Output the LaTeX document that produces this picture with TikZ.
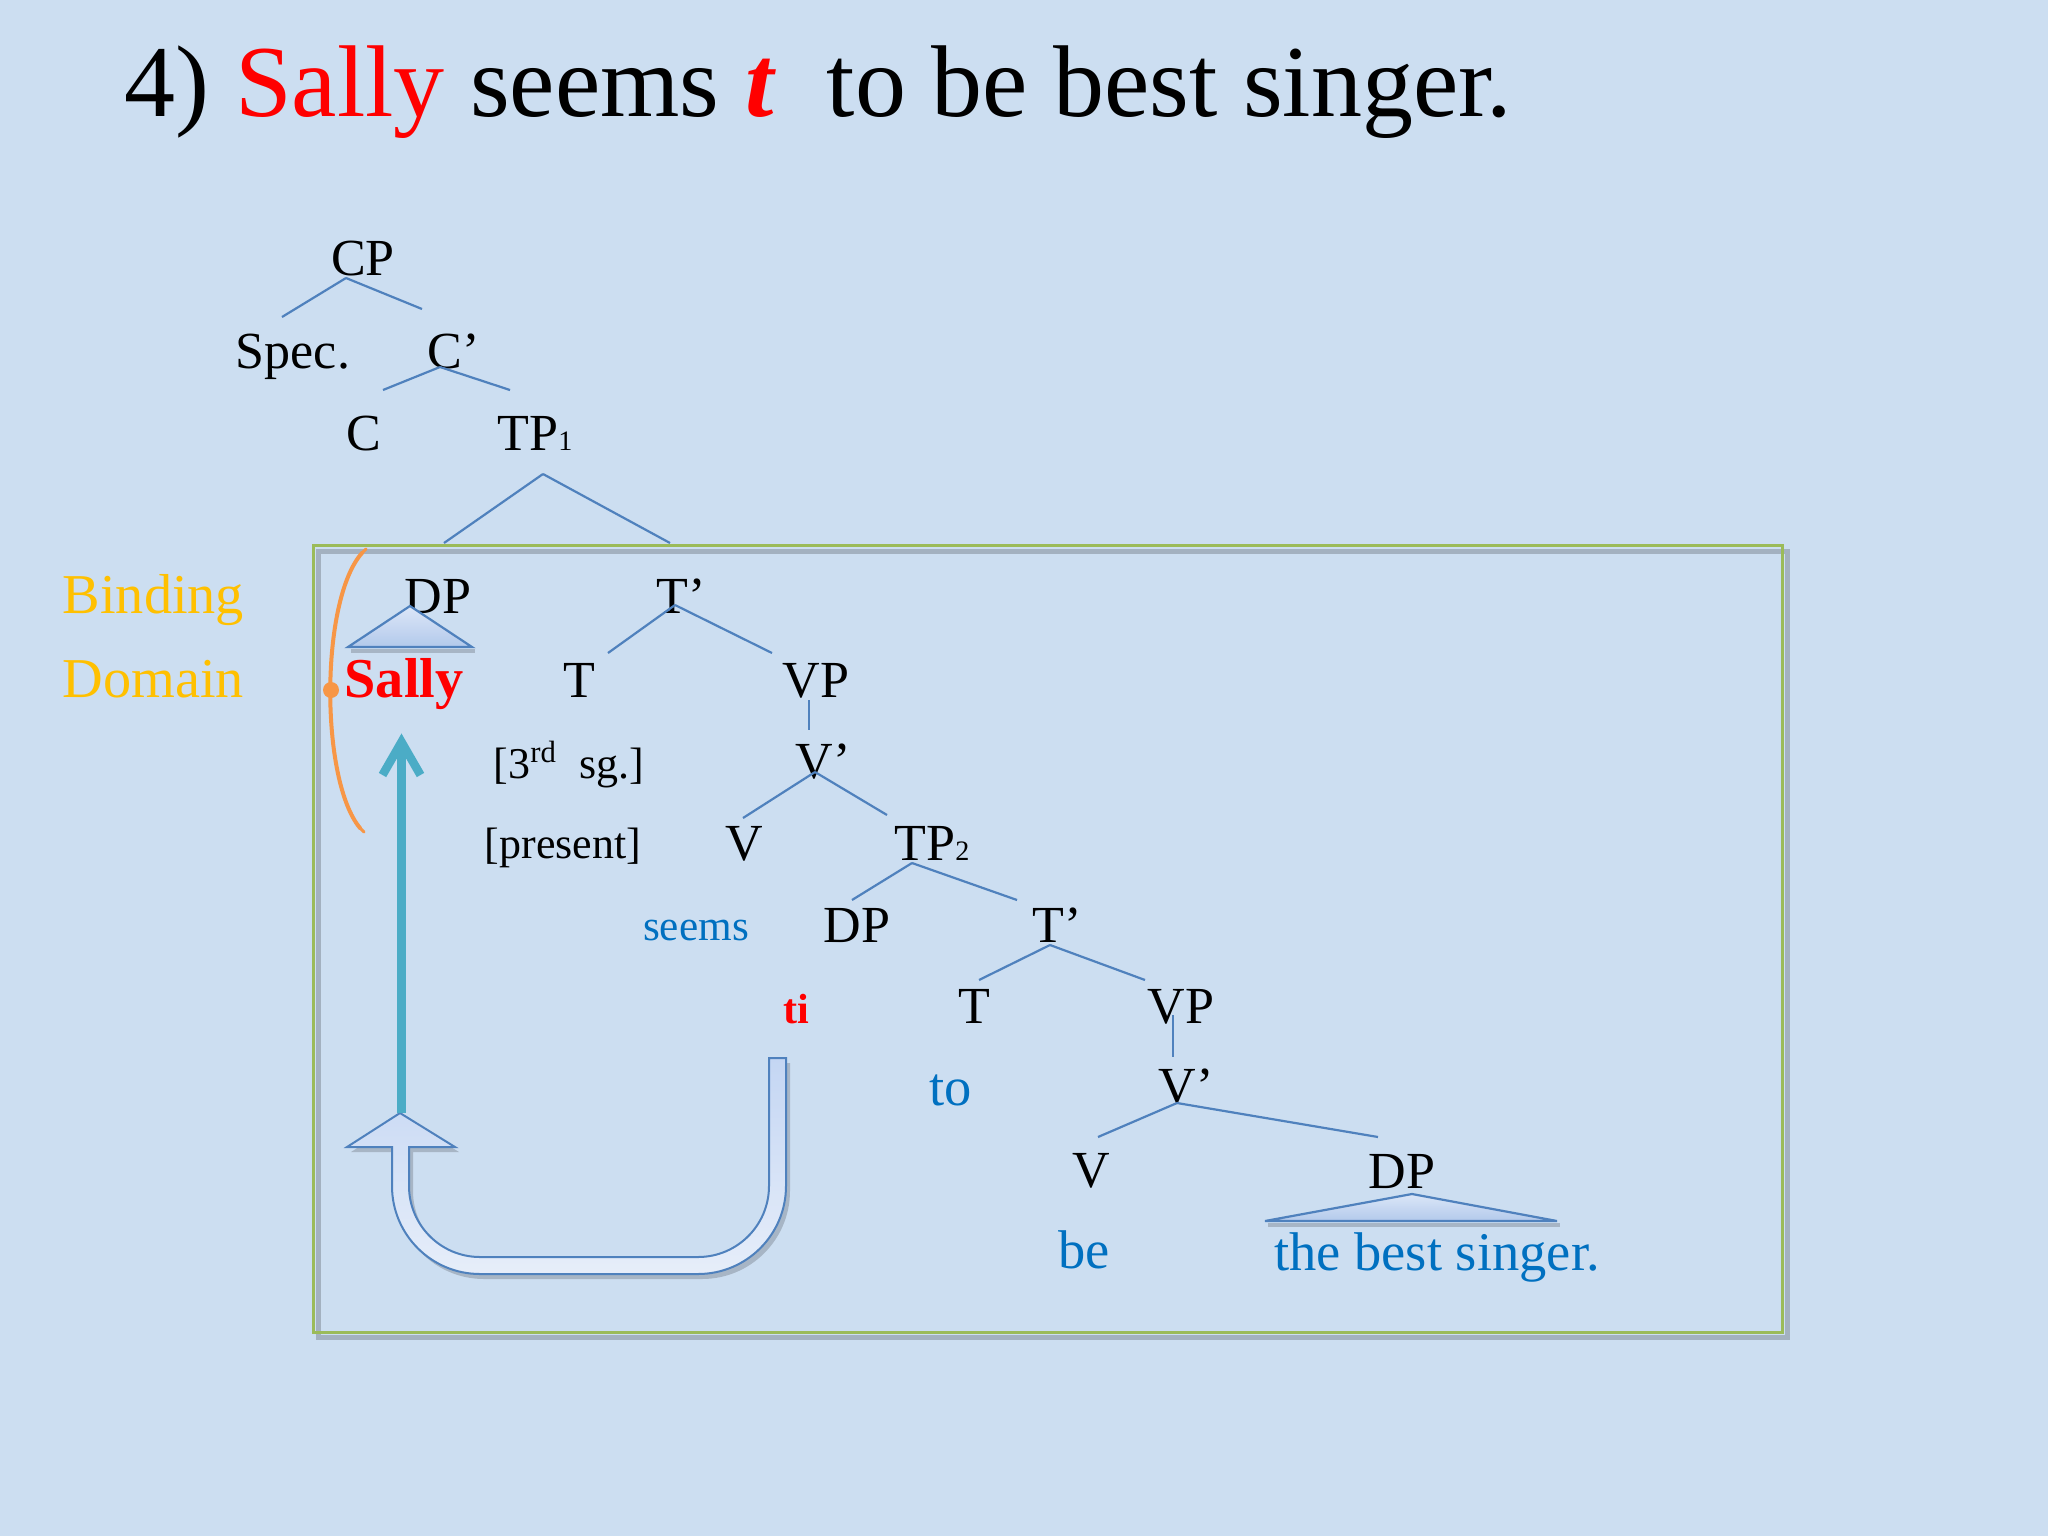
\documentclass[tikz,border=0pt]{standalone}
\usepackage{fontspec}
\setmainfont{Liberation Serif}
\usetikzlibrary{calc,arrows.meta}
\definecolor{bg}{RGB}{204,222,241}
\definecolor{treeblue}{RGB}{79,129,189}
\definecolor{wordblue}{RGB}{0,112,192}
\definecolor{gold}{RGB}{255,192,0}
\definecolor{boxgreen}{RGB}{155,187,89}
\definecolor{orangec}{RGB}{247,150,70}
\definecolor{teal}{RGB}{75,172,198}
\definecolor{trifill}{RGB}{196,214,243}
\definecolor{ufill}{RGB}{214,226,246}
\newcommand\tline[4]{\draw[tl] ($(#1.base)+(#2)$) -- ($(#3.base)+(#4)$);}
\begin{document}
\begin{tikzpicture}[x=0.01cm,y=-0.01cm,
  lab/.style={anchor=base,inner sep=0pt,font=\fontsize{14.8}{16}\selectfont,text=black},
  wrd/.style={anchor=base,inner sep=0pt,font=\fontsize{15.5}{17}\selectfont,text=wordblue},
  feat/.style={anchor=base,inner sep=0pt,font=\fontsize{12.5}{14}\selectfont,text=black},
  tl/.style={draw=treeblue,line width=0.022cm},
  tri/.style={draw=treeblue,line width=0.022cm,top color=white!40!trifill,bottom color=trifill!85!treeblue},
  shd/.style={fill=black,opacity=0.18,draw=none}]
\useasboundingbox (0,0) rectangle (2048,1536);
\fill[bg] (0,0) rectangle (2048,1536);

% title
\node[anchor=base west,inner sep=0pt,font=\fontsize{29}{32}\selectfont] (title) at (124,116)
  {4) \textcolor{red}{Sally} seems \textcolor{red}{\textbf{\textit{t}}}\hspace{0.5em}to be best singer.};

% binding domain box
\draw[black,opacity=0.2,line width=0.05cm] (318,551) rectangle (1787,1337);
\draw[boxgreen,line width=0.03cm] (313,545) rectangle (1782,1332);

% side labels
\node[anchor=base west,inner sep=0pt,font=\fontsize{16}{18}\selectfont,text=gold] (bind) at (62,613) {Binding};
\node[anchor=base west,inner sep=0pt,font=\fontsize{16}{18}\selectfont,text=gold] (dom) at (62,697) {Domain};

% tree nodes
\node[lab] (CP) at (363,275) {CP};
\node[lab] (Spec) at (293,368) {Spec.};
\node[lab] (Cbar) at (454,368) {C’};
\node[lab] (C) at (364,450) {C};
\node[lab] (TPa) at (535,450) {TP{\fontsize{8}{9}\selectfont 1}};
\node[lab] (DPa) at (438,613) {DP};
\node[lab] (Tbara) at (681,613) {T’};
\node[anchor=base,inner sep=0pt,font=\fontsize{16}{18}\selectfont\bfseries,text=red] (Sally) at (404,697) {Sally};
\node[lab] (Ta) at (579,697) {T};
\node[lab] (VPa) at (816,697) {VP};
\node[feat] (feat1) at (569,778) {[3\textsuperscript{rd}\ \ sg.]};
\node[lab] (Vbara) at (823,778) {V’};
\node[feat] (feat2) at (563,858) {[present]};
\node[lab] (Va) at (744,860) {V};
\node[lab] (TPb) at (932,860) {TP{\fontsize{8}{9}\selectfont 2}};
\node[anchor=base,inner sep=0pt,font=\fontsize{12.3}{14}\selectfont,text=wordblue] (seems) at (696,940) {seems};
\node[lab] (DPb) at (857,942) {DP};
\node[lab] (Tbarb) at (1057,942) {T’};
\node[anchor=base,inner sep=0pt,font=\fontsize{12}{14}\selectfont\bfseries,text=red] (ti) at (796,1023) {ti};
\node[lab] (Tb) at (974,1023) {T};
\node[lab] (VPb) at (1181,1023) {VP};
\node[wrd] (to) at (951,1105) {to};
\node[lab] (Vbarb) at (1186,1103) {V’};
\node[lab] (Vb) at (1091,1187) {V};
\node[lab] (DPc) at (1402,1188) {DP};
\node[wrd] (be) at (1084,1268) {be};
\node[wrd] (tbs) at (1437,1270) {the best singer.};

% triangles
\fill[shd] ($(DPa.base)+(-87,36)$) -- ($(DPa.base)+(37,36)$) -- ($(DPa.base)+(37,40)$) -- ($(DPa.base)+(-87,40)$) -- cycle;
\draw[tri] ($(DPa.base)+(-28,-7)$) -- ($(DPa.base)+(34,34)$) -- ($(DPa.base)+(-90,34)$) -- cycle;
\fill[shd] ($(DPc.base)+(-134,35)$) -- ($(DPc.base)+(158,35)$) -- ($(DPc.base)+(158,39)$) -- ($(DPc.base)+(-134,39)$) -- cycle;
\draw[tri] ($(DPc.base)+(10,6)$) -- ($(DPc.base)+(155,33)$) -- ($(DPc.base)+(-137,33)$) -- cycle;

% tree lines
\tline{CP}{-17,3}{Spec}{-11,-51}
\tline{CP}{-17,3}{Cbar}{-32,-59}
\tline{Cbar}{-14,-1}{C}{19,-60}
\tline{Cbar}{-14,-1}{TPa}{-25,-60}
\tline{TPa}{8,24}{DPa}{6,-70}
\tline{TPa}{8,24}{Tbara}{-11,-70}
\tline{Tbara}{-6,-8}{Ta}{29,-44}
\tline{Tbara}{-6,-8}{VPa}{-44,-44}
\tline{VPa}{-7,3}{Vbara}{-14,-48}
\tline{Vbara}{-8,-6}{Va}{-1,-42}
\tline{Vbara}{-8,-6}{TPb}{-45,-45}
\tline{TPb}{-20,3}{DPb}{-5,-42}
\tline{TPb}{-20,3}{Tbarb}{-40,-42}
\tline{Tbarb}{-7,3}{Tb}{5,-43}
\tline{Tbarb}{-7,3}{VPb}{-36,-43}
\tline{VPb}{-8,-8}{Vbarb}{-13,-46}
\tline{Vbarb}{-9,0}{Vb}{7,-50}
\tline{Vbarb}{-9,0}{DPc}{-24,-51}

% orange binding bracket
\draw[orangec,line width=0.04cm,line cap=round] (362,553) .. controls (320,600) and (320,780) .. (360,828);
\draw[orangec,line width=0.03cm,line cap=round] (362,553) -- (366,549);
\draw[orangec,line width=0.03cm,line cap=round] (360,828) -- (364,832);
\fill[orangec] (331,690) circle (8);

% U-turn block arrow
\begin{scope}[shift={(4,5)}]
\fill[shd] (786,1058) -- (786,1186) .. controls (786,1234.6) and (746.6,1274) .. (698,1274) -- (480,1274) .. controls (431.4,1274) and (392,1234.6) .. (392,1186) -- (392,1147) -- (347,1147) -- (400,1113) -- (455,1147) -- (409,1147) -- (409,1186) .. controls (409,1225.2) and (440.8,1257) .. (480,1257) -- (698,1257) .. controls (737.2,1257) and (769,1225.2) .. (769,1186) -- (769,1058) -- cycle;
\end{scope}
\draw[treeblue,line width=0.02cm,top color=trifill,bottom color=ufill!60!white] (786,1058) -- (786,1186) .. controls (786,1234.6) and (746.6,1274) .. (698,1274) -- (480,1274) .. controls (431.4,1274) and (392,1234.6) .. (392,1186) -- (392,1147) -- (347,1147) -- (400,1113) -- (455,1147) -- (409,1147) -- (409,1186) .. controls (409,1225.2) and (440.8,1257) .. (480,1257) -- (698,1257) .. controls (737.2,1257) and (769,1225.2) .. (769,1186) -- (769,1058) -- cycle;
\coordinate (ua) at (401.5,1113);

% teal movement arrow
\coordinate (tip) at ($(Sally.base)+(-2.5,45)$);
\draw[teal,line width=0.09cm] (ua) -- (tip);
\draw[teal,line width=0.085cm,line join=miter,line cap=butt] ($(tip)+(-19,33)$) -- (tip) -- ($(tip)+(19,33)$);
\end{tikzpicture}
\end{document}
